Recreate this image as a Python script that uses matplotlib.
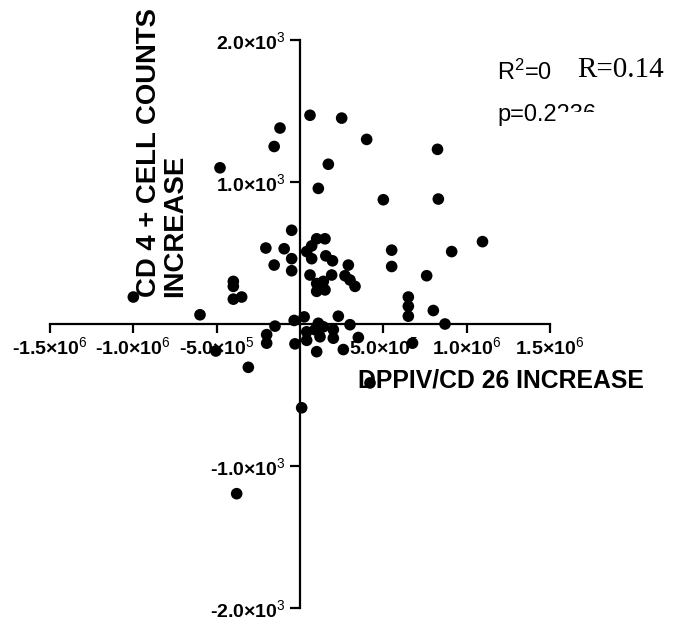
import numpy as np
import matplotlib
matplotlib.use("Agg")
import matplotlib.pyplot as plt
from matplotlib.patches import Rectangle

plt.rcParams['font.family'] = ['Liberation Sans', 'DejaVu Sans']
plt.rcParams['mathtext.fontset'] = 'custom'
plt.rcParams['mathtext.rm'] = 'Liberation Sans'
plt.rcParams['mathtext.bf'] = 'Liberation Sans:bold'
plt.rcParams['mathtext.default'] = 'rm'

# DPPIV/CD26 increase (x) vs CD4+ cell count increase (y)
dppiv = [60000, 250000, -120000, 400000, -155000, 825000, -480000, 170000,
         110000, 500000, 830000, -50000, 1095000, -205000, -95000, -50000,
         -155000, -50000, 40000, 70000, 100000, 150000, 70000, 155000,
         195000, 290000, 550000, 550000, 910000, 60000, 190000, 100000,
         140000, 100000, 150000, 270000, 300000, 330000, 760000, -400000,
         -400000, -400000, -350000, -600000, 650000, 650000, 650000, 800000,
         870000, 230000, 25000, -35000, -150000, -200000, -200000, -30000,
         40000, 40000, 110000, 140000, 90000, 120000, 200000, 200000,
         300000, 350000, 100000, 260000, 675000, -505000, -310000, 420000,
         -1000000, -380000, 10000]
cd4 = [1470, 1450, 1380, 1300, 1250, 1230, 1100, 1125,
       955, 875, 880, 660, 580, 535, 530, 460,
       415, 375, 510, 550, 600, 600, 460, 480,
       445, 415, 520, 405, 510, 345, 345, 285,
       300, 230, 240, 340, 310, 265, 340, 300,
       265, 175, 190, 65, 190, 125, 55, 95,
       0, 55, 50, 25, -15, -75, -135, -140,
       -55, -115, 5, -20, -40, -90, -40, -100,
       -5, -95, -195, -180, -135, -190, -305, -415,
       190, -1195, -590]

xticks = [-1.5e6, -1.0e6, -5e5, 5e5, 1.0e6, 1.5e6]
xticklabels = ['-1.5×10$^{6}$', '-1.0×10$^{6}$', '-5.0×10$^{5}$',
               '5.0×10$^{5}$', '1.0×10$^{6}$', '1.5×10$^{6}$']
yticks = [-2000, -1000, 1000, 2000]
yticklabels = ['-2.0×10$^{3}$', '-1.0×10$^{3}$', '1.0×10$^{3}$', '2.0×10$^{3}$']

W, H = 675, 623
fig = plt.figure(figsize=(W / 100, H / 100), dpi=100)
ax = fig.add_axes([50 / W, 1 - 608 / H, 500 / W, 568 / H])

ax.scatter(dppiv, cd4, s=70, color='black', edgecolors='none', zorder=3)

ax.set_xlim(-1.5e6, 1.5e6)
ax.set_ylim(-2000, 2000)
ax.spines['left'].set_position(('data', 0))
ax.spines['bottom'].set_position(('data', 0))
ax.spines['top'].set_visible(False)
ax.spines['right'].set_visible(False)
for s in ['left', 'bottom']:
    ax.spines[s].set_linewidth(1.6)

ax.set_xticks(xticks)
ax.set_xticklabels(xticklabels, fontsize=14, fontweight='bold')
ax.set_yticks(yticks)
ax.set_yticklabels(yticklabels, fontsize=14, fontweight='bold')
ax.tick_params(axis='x', direction='out', length=6.5, width=1.6, pad=2.5)
ax.tick_params(axis='y', direction='out', length=7, width=1.6, pad=3.5)
ax.patch.set_visible(False)

fig.text(501 / W, 1 - 380 / H, 'DPPIV/CD 26 INCREASE', fontsize=17.8,
         fontweight='bold', ha='center', va='center')
fig.text(162 / W, 1 - 297 / H, 'CD 4 + CELL COUNTS\nINCREASE', fontsize=19.8,
         fontweight='bold', rotation=90, ha='center', va='bottom',
         multialignment='left', linespacing=1.0)

fig.text(497 / W, 1 - 80 / H, 'R$^{2}$=0', fontsize=17, va='baseline')
fig.text(577 / W, 1 - 77 / H, 'R=0.14', fontsize=21, va='baseline',
         family='Liberation Serif')
fig.text(497 / W, 1 - 121 / H, 'p=0.2236', fontsize=17, va='baseline')
# lower half of the p-value is hidden in the original
fig.patches.append(Rectangle((557 / W, 1 - 128 / H), 60 / W, 16 / H,
                             transform=fig.transFigure, facecolor='white',
                             edgecolor='none', zorder=10))

fig.savefig('out.png', dpi=100)
